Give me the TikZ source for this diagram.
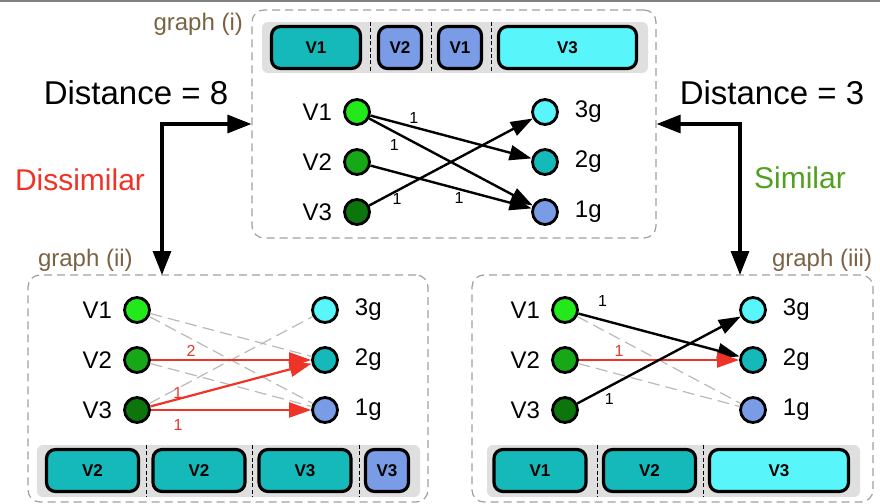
\documentclass[tikz,border=0pt]{standalone}
\usepackage{fontspec}
\setmainfont{Liberation Sans}
\usetikzlibrary{arrows.meta,shapes,positioning,calc}

\definecolor{vone}{RGB}{35,232,25}
\definecolor{vtwo}{RGB}{22,168,22}
\definecolor{vthree}{RGB}{12,118,12}
\definecolor{gthree}{RGB}{88,245,250}
\definecolor{gtwo}{RGB}{22,185,185}
\definecolor{gone}{RGB}{122,156,230}
\definecolor{hotred}{RGB}{238,52,40}
\definecolor{simgreen}{RGB}{82,160,32}
\definecolor{lblbrown}{RGB}{122,98,68}

\tikzset{
  frame/.style={draw=gray!75, line width=0.6pt, dash pattern=on 4pt off 2.5pt, rounded corners=6pt},
  bar/.style={fill=gray!25, rounded corners=3pt},
  sep/.style={line width=0.4pt, dash pattern=on 2pt off 1.2pt},
  seg/.style={draw, line width=1.6pt, rounded corners=4.5pt, minimum height=21pt, inner sep=0pt,
              font=\bfseries\fontsize{8.5}{8.5}\selectfont},
  vert/.style={circle, draw, line width=1.4pt, minimum size=12.5pt, inner sep=0pt},
  vlab/.style={font=\fontsize{12}{12}\selectfont},
  wlab/.style={font=\fontsize{8}{8}\selectfont, inner sep=1pt},
  match/.style={-{Triangle[length=11pt,width=7.5pt]}, line width=1.2pt},
  miss/.style={match, draw=hotred, line width=1.1pt},
  ghost/.style={draw=gray!55, line width=0.6pt, dash pattern=on 6pt off 3pt},
  elbow/.style={{Triangle[length=12pt,width=9pt]}-{Triangle[length=12pt,width=9pt]}, line width=1.6pt},
  big/.style={font=\fontsize{16.5}{16.5}\selectfont},
  mid/.style={font=\fontsize{15}{15}\selectfont},
  tag/.style={font=\fontsize{12}{12}\selectfont, text=lblbrown}
}

\begin{document}
\begin{tikzpicture}[x=0.5pt,y=-0.5pt]
\useasboundingbox (0,0) rectangle (880,504);
\draw[gray, line width=1pt] (0,0.8) -- (880,0.8);

% frames
\node[frame, minimum width=202pt, minimum height=114pt] (gi) at (454,124) {};
\node[frame, minimum width=200pt, minimum height=113.5pt] (gii) at (228,388.5) {};
\node[frame, minimum width=200.5pt, minimum height=113.5pt] (giii) at (672.5,388.5) {};

\node[tag, anchor=east] (ti) at (250,24) {graph (i)};
\node[tag, anchor=west] (tii) at (31,260) {graph (ii)};
\node[tag, anchor=west] (tiii) at (765,260) {graph (iii)};

% graph (i) sequence
\fill[bar] (262,22) rectangle (648,73);
\node[seg, fill=gtwo, minimum width=44.5pt] (si1) at (316,47.5) {V1};
\node[seg, fill=gone, minimum width=21.5pt] (si2) at (400,47.5) {V2};
\node[seg, fill=gone, minimum width=21.5pt] (si3) at (460,47.5) {V1};
\node[seg, fill=gthree, minimum width=69pt] (si4) at (567.5,47.5) {V3};
\foreach \x in {370,431,491}
  \draw[sep] (\x,22) -- (\x,73);

% graph (ii) sequence
\fill[bar] (37,445) rectangle (420,497);
\node[seg, fill=gtwo, minimum width=46pt] (sii1) at (92.5,470.5) {V2};
\node[seg, fill=gtwo, minimum width=46pt] (sii2) at (199,470.5) {V2};
\node[seg, fill=gtwo, minimum width=46pt] (sii3) at (305,470.5) {V3};
\node[seg, fill=gone, minimum width=21.5pt] (sii4) at (387,470.5) {V3};
\foreach \x in {146,252,359}
  \draw[sep] (\x,445) -- (\x,497);

% graph (iii) sequence
\fill[bar] (487,445) rectangle (860,497);
\node[seg, fill=gtwo, minimum width=46pt] (siii1) at (540,470.5) {V1};
\node[seg, fill=gtwo, minimum width=46pt] (siii2) at (649.5,470.5) {V2};
\node[seg, fill=gthree, minimum width=69.5pt] (siii3) at (779,470.5) {V3};
\foreach \x in {597,703}
  \draw[sep] (\x,445) -- (\x,497);

% vertices
\foreach \n/\c in {1/vone,2/vtwo,3/vthree}
{
  \node[vert, fill=\c] (a\n) at (357,62+50*\n) {};
  \node[vlab, left=2pt of a\n] (la\n) {V\n};
  \node[vert, fill=\c] (c\n) at (137,260+50*\n) {};
  \node[vlab, left=2pt of c\n] (lc\n) {V\n};
  \node[vert, fill=\c] (e\n) at (565,260+50*\n) {};
  \node[vlab, left=2pt of e\n] (le\n) {V\n};
}
\foreach \n/\c in {3/gthree,2/gtwo,1/gone}
{
  \node[vert, fill=\c] (b\n) at (545,262-50*\n) {};
  \node[vlab, right=4.5pt of b\n] (lb\n) {\n g};
  \node[vert, fill=\c] (d\n) at (325,460-50*\n) {};
  \node[vlab, right=4.5pt of d\n] (ld\n) {\n g};
  \node[vert, fill=\c] (f\n) at (753,460-50*\n) {};
  \node[vlab, right=4.5pt of f\n] (lf\n) {\n g};
}

% graph (i) edges
\draw[match] (a1) -- node[wlab, pos=0.27, above] (wi1) {1} (b2);
\draw[match] (a1) -- node[wlab, pos=0.2, below left] (wi2) {1} (b1);
\draw[match] (a2) -- node[wlab, pos=0.55, below] (wi3) {1} (b1);
\draw[match] (a3) -- node[wlab, pos=0.17, below] (wi4) {1} (b3);

% graph (ii) edges
\draw[ghost] (c1) -- (d2);
\draw[ghost] (c1) -- (d1);
\draw[ghost] (c2) -- (d1);
\draw[ghost] (c3) -- (d3);
\draw[miss] (c2) -- node[wlab, text=hotred, pos=0.25, above] (wii1) {2} (d2);
\draw[miss] (c3) -- node[wlab, text=hotred, pos=0.17, above, inner sep=0pt] (wii2) {1} (d2);
\draw[miss] (c3) -- node[wlab, text=hotred, pos=0.17, below=3pt] (wii3) {1} (d1);

% graph (iii) edges
\draw[ghost] (e1) -- (f1);
\draw[ghost] (e2) -- (f1);
\draw[match] (e1) -- node[wlab, pos=0.15, above=5pt] (wiii1) {1} (f2);
\draw[miss] (e2) -- node[wlab, text=hotred, pos=0.25, above] (wiii2) {1} (f2);
\draw[match] (e3) -- node[wlab, pos=0.15, below right] (wiii3) {1} (f3);

% distances
\node[big] (dl) at (136,93) {Distance = 8};
\node[big] (dr) at (772,93) {Distance = 3};
\node[mid, text=hotred] (dis) at (80,180) {Dissimilar};
\node[mid, text=simgreen] (sim) at (800,178) {Similar};

\coordinate (lt) at (162,275);
\coordinate (rt) at (740,275);
\draw[elbow] (gi.west) -| (lt);
\draw[elbow] (gi.east) -| (rt);

\end{tikzpicture}
\end{document}
